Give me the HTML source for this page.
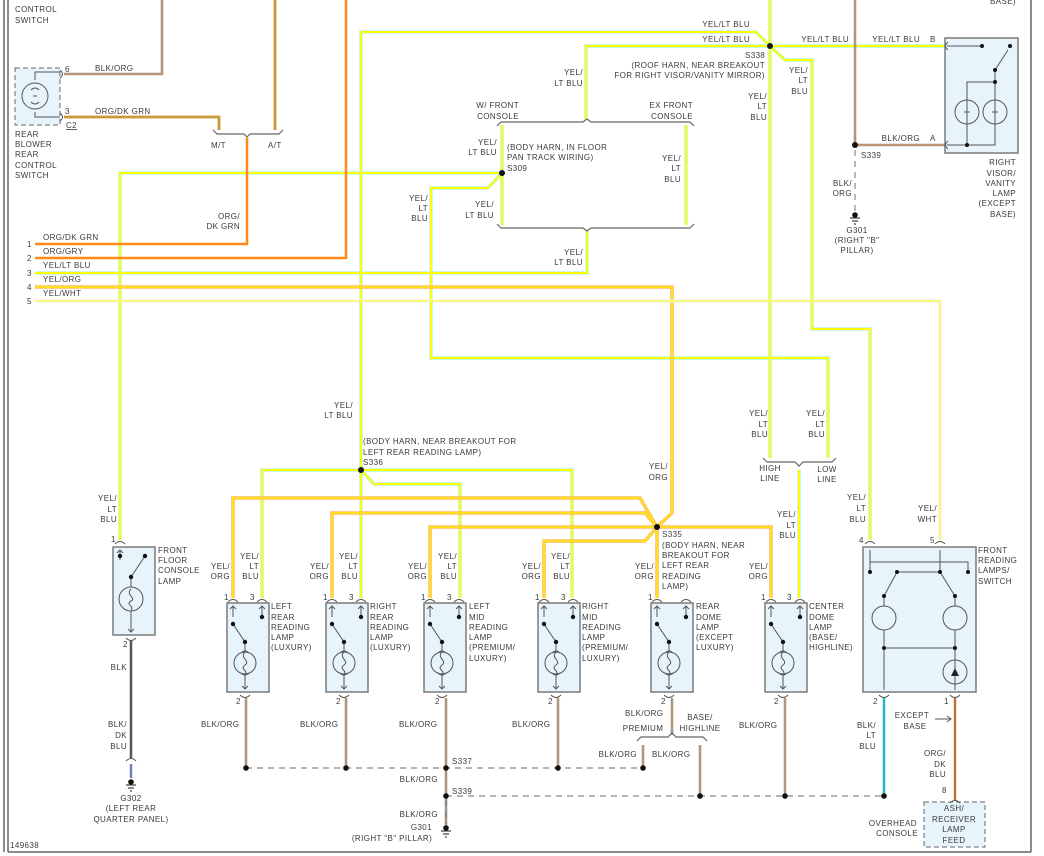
<!DOCTYPE html>
<html><head><meta charset="utf-8"><style>
html,body{margin:0;padding:0;background:#fff}
svg{display:block}
text{font-family:"Liberation Sans",sans-serif;font-size:8px;fill:#3a3a3a;letter-spacing:0.4px}
.e{text-anchor:end}.m{text-anchor:middle}
.box{fill:#e8f4fb;stroke:#7a7a7a;stroke-width:1.5}
.sym{fill:none;stroke:#555;stroke-width:1}
.cap{fill:none;stroke:#555;stroke-width:1}
</style></head><body>
<svg width="1044" height="856" viewBox="0 0 1044 856" xmlns="http://www.w3.org/2000/svg">
<defs>
<path id="ylb1" d="M361,598 V32 H756 L770,46"/>
<path id="ylb2" d="M586,120 V46 H770 H945"/>
<path id="ylb4" d="M770,46 L785,60 H812 V329 H870 V540"/>
<path id="ylb5" d="M770,0 V458"/>
<path id="ylb6" d="M828,458 V358 H431 V188 H488 L502,173"/>
<path id="ylb7" d="M502,173 H120 V540"/>
<path id="ylb8" d="M502,125 V225 M686,125 V225"/>
<path id="ylb9" d="M587,230 V273 H35"/>
<path id="ylb10" d="M799,470 V598"/>
<path id="ylb11" d="M361,470 H262 V598 M361,470 H572 V598 M361,470 L374,484 H460 V598"/>
<path id="yo" d="M35,287 H672 V513 L657,527 M233,598 V498 H640 L657,527 M332,598 V513 H645 L657,527 M430,598 V527 H657 M544,598 V541 H645 L657,527 M657,527 V598 M657,527 H771 V598"/>
<symbol id="lamp" overflow="visible">
<rect class="box" x="0" y="0" width="42" height="89"/>
<path class="cap" d="M1,-1 Q6,-6 11,-1 M30,-1 Q35,-6 40,-1 M13,92 Q18,97 23,92"/>
<path class="sym" d="M6,14 V3 M3,6 L6,3 L9,6 M35,14 V3 M32,6 L35,3 L38,6 M6,21 L18,39 V48 M18,72 V86 M15,83 L18,86 L21,83"/>
<circle cx="6" cy="21" r="2.2" fill="#111"/><circle cx="35" cy="14" r="2.2" fill="#111"/><circle cx="18" cy="39" r="2.2" fill="#111"/>
<circle class="sym" cx="18" cy="60" r="11"/>
<path class="sym" d="M14,50 Q18,46 22,50 M14,70 Q18,74 22,70 M18,49 C12,55 24,58 18,62 C12,66 22,68 18,71"/>
</symbol>
</defs>

<path d="M4,0 V852 M8,0 V852 M8,852 H1031 M1031,0 V852" stroke="#666" stroke-width="1.5" fill="none"/>

<g fill="none" stroke="#b8f4e8" stroke-width="3.5">
<use href="#ylb1"/><use href="#ylb2"/><use href="#ylb4"/><use href="#ylb5"/><use href="#ylb6"/><use href="#ylb7"/><use href="#ylb8"/><use href="#ylb9"/><use href="#ylb10"/><use href="#ylb11"/>
</g>
<g fill="none" stroke="#ffff00" stroke-width="2">
<use href="#ylb1"/><use href="#ylb2"/><use href="#ylb4"/><use href="#ylb5"/><use href="#ylb6"/><use href="#ylb7"/><use href="#ylb8"/><use href="#ylb9"/><use href="#ylb10"/><use href="#ylb11"/>
</g>
<g fill="none" stroke="#ffb860" stroke-width="3.5"><use href="#yo"/></g>
<g fill="none" stroke="#ffe020" stroke-width="2"><use href="#yo"/></g>
<path d="M35,301 H940 V540" fill="none" stroke="#e8e8d8" stroke-width="3"/>
<path d="M35,301 H940 V540" fill="none" stroke="#ffff60" stroke-width="1.5"/>

<path d="M35,244 H247 V138" fill="none" stroke="#ff8a1a" stroke-width="2.5"/>
<path d="M35,258 H346 V0" fill="none" stroke="#ff8a1a" stroke-width="2.5"/>
<path d="M64,117 H219 V130" fill="none" stroke="#f5a040" stroke-width="3"/>
<path d="M64,117 H219 V130" fill="none" stroke="#6a9a40" stroke-width="0.8"/>
<path d="M275,0 V130" fill="none" stroke="#f5a040" stroke-width="3"/>
<path d="M275,0 V130" fill="none" stroke="#6a9a40" stroke-width="0.8"/>
<g fill="none" stroke="#8a8a8a" stroke-width="2.5">
<path d="M64,74 H162 V0"/><path d="M855,0 V145 H945"/>
<path d="M246,698 V768 M346,698 V768 M446,698 V828 M558,698 V768 M672,698 V735 M643,745 V768 M700,745 V796 M785,698 V796"/>
</g>
<g fill="none" stroke="#f0a060" stroke-width="0.9">
<path d="M64,74 H162 V0"/><path d="M855,0 V145 H945"/>
<path d="M246,698 V768 M346,698 V768 M446,698 V828 M558,698 V768 M672,698 V735 M643,745 V768 M700,745 V796 M785,698 V796"/>
</g>
<path d="M884,698 V796" stroke="#22b8c8" stroke-width="2.5" fill="none"/>
<path d="M955,698 V800" stroke="#ff7a1a" stroke-width="2.5" fill="none"/>
<path d="M955,698 V800" stroke="#3050a0" stroke-width="0.6" fill="none"/>
<path d="M131,640 V758" stroke="#555" stroke-width="2.5" fill="none"/>
<path d="M131,764 V778" stroke="#7080b0" stroke-width="2.5" fill="none"/>
<g fill="none" stroke="#888" stroke-width="1.2" stroke-dasharray="6,5">
<path d="M246,768 H643"/><path d="M446,796 H884"/><path d="M855,150 V212"/><path d="M446,800 V824"/>
</g>

<g fill="none" stroke="#666" stroke-width="1.2">
<path d="M213,130 L217,134 H244 L247,137 L250,134 H279 L283,130"/>
<path d="M497,126 L501,122 H583 L587,119 L591,122 H690 L694,126"/>
<path d="M497,224 L501,228 H583 L587,231 L591,228 H690 L694,224"/>
<path d="M763,458 L767,462 H795 L799,466 L803,462 H832 L836,458"/>
<path d="M637,741 L641,737 H668 L672,733 L676,737 H703 L707,741"/>
</g>

<g fill="#111">
<circle cx="770" cy="46" r="3"/><circle cx="502" cy="173" r="3"/><circle cx="361" cy="470" r="3"/><circle cx="657" cy="527" r="3"/><circle cx="855" cy="145" r="3"/>
<circle cx="246" cy="768" r="2.8"/><circle cx="346" cy="768" r="2.8"/><circle cx="446" cy="768" r="2.8"/><circle cx="558" cy="768" r="2.8"/><circle cx="643" cy="768" r="2.8"/>
<circle cx="446" cy="796" r="2.8"/><circle cx="700" cy="796" r="2.8"/><circle cx="785" cy="796" r="2.8"/><circle cx="884" cy="796" r="2.8"/>
</g>
<g fill="none" stroke="#444" stroke-width="1.2">
<path d="M850,218 H860 M852,221 H858 M854,224 H856"/>
<path d="M126,785 H136 M128,788 H134 M130,791 H132"/>
<path d="M441,831 H451 M443,834 H449 M445,837 H447"/>
</g>
<circle cx="855" cy="215" r="2.8" fill="#111"/><circle cx="131" cy="782" r="2.8" fill="#111"/><circle cx="446" cy="828" r="2.8" fill="#111"/>

<rect x="15" y="68" width="45" height="57" fill="#e8f4fb" stroke="#666" stroke-dasharray="5,3"/>
<circle class="sym" cx="35" cy="96" r="13"/>
<path class="sym" d="M35,80 V72 H60 M35,112 V117 H60 M31,90 Q35,86 39,90 M31,102 Q35,106 39,102 M33,96 H37"/>
<path class="cap" d="M60,70 Q65,74 60,78 M60,113 Q65,117 60,121"/>

<rect class="box" x="945" y="38" width="73" height="115"/>
<path class="cap" d="M948,42 Q943,46 948,50 M948,141 Q943,145 948,149"/>
<path class="sym" d="M947,46 H982 M947,145 H995 V81 M995,70 L1008,50 M967,145 V82 H995 M995,70 V81"/>
<circle cx="982" cy="46" r="2" fill="#111"/><circle cx="1010" cy="46" r="2" fill="#111"/><circle cx="995" cy="70" r="2" fill="#111"/><circle cx="995" cy="82" r="2" fill="#111"/><circle cx="967" cy="145" r="2" fill="#111"/>
<circle class="sym" cx="967" cy="112" r="12"/><circle class="sym" cx="995" cy="112" r="12"/>
<path class="sym" d="M964,112 h6 M992,112 h6"/>

<rect class="box" x="113" y="547" width="42" height="88"/>
<path class="cap" d="M115,544 Q120,539 125,544 M126,638 Q131,643 136,638"/>
<path class="sym" d="M120,560 V550 M117,553 L120,550 L123,553 M131,577 L145,556 M131,577 V587 M131,611 V632 M128,629 L131,632 L134,629"/>
<circle cx="120" cy="556" r="2.2" fill="#111"/><circle cx="145" cy="556" r="2.2" fill="#111"/><circle cx="131" cy="577" r="2.2" fill="#111"/>
<circle class="sym" cx="131" cy="599" r="12"/>
<path class="sym" d="M131,589 C125,595 137,598 131,601 C125,604 135,607 131,610"/>
<path class="cap" d="M126,761 Q131,756 136,761"/>

<use href="#lamp" x="227" y="603"/>
<use href="#lamp" x="326" y="603"/>
<use href="#lamp" x="424" y="603"/>
<use href="#lamp" x="538" y="603"/>
<use href="#lamp" x="651" y="603"/>
<use href="#lamp" x="765" y="603"/>

<rect class="box" x="863" y="547" width="113" height="145"/>
<path class="cap" d="M865,544 Q870,539 875,544 M935,544 Q940,539 945,544 M879,695 Q884,700 889,695 M950,695 Q955,700 960,695"/>
<path class="sym" d="M870,572 V550 M940,572 V550 M870,562 H968 V572 M884,596 L897,572 H940 L955,596 M884,596 V606 M955,596 V606 M884,630 V690 M955,630 V690 M884,648 H955"/>
<circle cx="870" cy="572" r="2" fill="#111"/><circle cx="968" cy="572" r="2" fill="#111"/><circle cx="897" cy="572" r="2" fill="#111"/><circle cx="940" cy="572" r="2" fill="#111"/>
<circle cx="884" cy="596" r="2" fill="#111"/><circle cx="955" cy="596" r="2" fill="#111"/><circle cx="884" cy="648" r="2" fill="#111"/><circle cx="955" cy="648" r="2" fill="#111"/>
<circle class="sym" cx="884" cy="618" r="12"/><circle class="sym" cx="955" cy="618" r="12"/><circle class="sym" cx="955" cy="672" r="12"/>
<path d="M951,676 L955,668 L959,676 Z" fill="#222"/>
<path class="sym" d="M935,719 H951 M947,716 L951,719 L947,722"/>

<rect x="924" y="802" width="61" height="45" fill="#e8f4fb" stroke="#666" stroke-dasharray="5,3"/>
<path class="cap" d="M950,803 Q955,798 960,803"/>

<text x="15" y="12">CONTROL</text><text x="15" y="23">SWITCH</text>
<text x="95" y="71">BLK/ORG</text><text x="65" y="72">6</text>
<text x="65" y="114">3</text><text x="95" y="114">ORG/DK GRN</text>
<text x="66" y="128" text-decoration="underline">C2</text>
<text x="15" y="137">REAR</text><text x="15" y="147">BLOWER</text><text x="15" y="157">REAR</text><text x="15" y="168">CONTROL</text><text x="15" y="178">SWITCH</text>
<text x="211" y="148">M/T</text><text x="268" y="148">A/T</text>
<text class="e" x="240" y="219">ORG/</text><text class="e" x="240" y="229">DK GRN</text>
<text x="27" y="247">1</text><text x="43" y="240">ORG/DK GRN</text>
<text x="27" y="261">2</text><text x="43" y="254">ORG/GRY</text>
<text x="27" y="276">3</text><text x="43" y="268">YEL/LT BLU</text>
<text x="27" y="290">4</text><text x="43" y="282">YEL/ORG</text>
<text x="27" y="304">5</text><text x="43" y="296">YEL/WHT</text>
<text class="e" x="750" y="27">YEL/LT BLU</text><text class="e" x="750" y="42">YEL/LT BLU</text>
<text x="745" y="58">S338</text>
<text class="e" x="765" y="68">(ROOF HARN, NEAR BREAKOUT</text><text class="e" x="765" y="78">FOR RIGHT VISOR/VANITY MIRROR)</text>
<text class="e" x="583" y="75">YEL/</text><text class="e" x="583" y="86">LT BLU</text>
<text class="e" x="519" y="108">W/ FRONT</text><text class="e" x="519" y="119">CONSOLE</text>
<text class="e" x="693" y="108">EX FRONT</text><text class="e" x="693" y="119">CONSOLE</text>
<text class="e" x="497" y="145">YEL/</text><text class="e" x="497" y="155">LT BLU</text>
<text x="507" y="150">(BODY HARN, IN FLOOR</text><text x="507" y="160">PAN TRACK WIRING)</text><text x="507" y="171">S309</text>
<text class="e" x="428" y="201">YEL/</text><text class="e" x="428" y="211">LT</text><text class="e" x="428" y="221">BLU</text>
<text class="e" x="494" y="207">YEL/</text><text class="e" x="494" y="218">LT BLU</text>
<text class="e" x="681" y="161">YEL/</text><text class="e" x="681" y="171">LT</text><text class="e" x="681" y="182">BLU</text>
<text class="e" x="583" y="255">YEL/</text><text class="e" x="583" y="265">LT BLU</text>
<text class="e" x="767" y="99">YEL/</text><text class="e" x="767" y="109">LT</text><text class="e" x="767" y="120">BLU</text>
<text class="e" x="808" y="73">YEL/</text><text class="e" x="808" y="83">LT</text><text class="e" x="808" y="94">BLU</text>
<text class="e" x="849" y="42">YEL/LT BLU</text><text class="e" x="920" y="42">YEL/LT BLU</text><text x="930" y="42">B</text>
<text class="e" x="920" y="141">BLK/ORG</text><text x="930" y="141">A</text>
<text x="861" y="158">S339</text>
<text class="e" x="852" y="186">BLK/</text><text class="e" x="852" y="196">ORG</text>
<text class="m" x="857" y="233">G301</text><text class="m" x="857" y="243">(RIGHT "B"</text><text class="m" x="857" y="253">PILLAR)</text>
<text class="e" x="1016" y="4">BASE)</text>
<text class="e" x="1016" y="165">RIGHT</text><text class="e" x="1016" y="176">VISOR/</text><text class="e" x="1016" y="186">VANITY</text><text class="e" x="1016" y="196">LAMP</text><text class="e" x="1016" y="206">(EXCEPT</text><text class="e" x="1016" y="217">BASE)</text>
<text class="e" x="353" y="408">YEL/</text><text class="e" x="353" y="418">LT BLU</text>
<text x="363" y="444">(BODY HARN, NEAR BREAKOUT FOR</text><text x="363" y="455">LEFT REAR READING LAMP)</text><text x="363" y="465">S336</text>
<text class="e" x="668" y="469">YEL/</text><text class="e" x="668" y="480">ORG</text>
<text class="e" x="768" y="416">YEL/</text><text class="e" x="768" y="427">LT</text><text class="e" x="768" y="437">BLU</text>
<text class="e" x="825" y="416">YEL/</text><text class="e" x="825" y="427">LT</text><text class="e" x="825" y="437">BLU</text>
<text class="m" x="770" y="471">HIGH</text><text class="m" x="770" y="481">LINE</text>
<text class="m" x="827" y="472">LOW</text><text class="m" x="827" y="482">LINE</text>
<text class="e" x="796" y="517">YEL/</text><text class="e" x="796" y="528">LT</text><text class="e" x="796" y="538">BLU</text>
<text class="e" x="117" y="501">YEL/</text><text class="e" x="117" y="512">LT</text><text class="e" x="117" y="522">BLU</text>
<text x="111" y="542">1</text>
<text x="158" y="553">FRONT</text><text x="158" y="563">FLOOR</text><text x="158" y="573">CONSOLE</text><text x="158" y="584">LAMP</text>
<text x="123" y="647">2</text><text class="e" x="127" y="670">BLK</text>
<text class="e" x="127" y="727">BLK/</text><text class="e" x="127" y="738">DK</text><text class="e" x="127" y="749">BLU</text>
<text class="m" x="131" y="801">G302</text><text class="m" x="131" y="811">(LEFT REAR</text><text class="m" x="131" y="822">QUARTER PANEL)</text>
<text class="e" x="230" y="569">YEL/</text><text class="e" x="230" y="579">ORG</text><text class="e" x="259" y="559">YEL/</text><text class="e" x="259" y="569">LT</text><text class="e" x="259" y="579">BLU</text>
<text x="224" y="600">1</text><text x="250" y="600">3</text>
<text x="271" y="609">LEFT</text><text x="271" y="620">REAR</text><text x="271" y="630">READING</text><text x="271" y="640">LAMP</text><text x="271" y="650">(LUXURY)</text>
<text class="e" x="329" y="569">YEL/</text><text class="e" x="329" y="579">ORG</text><text class="e" x="358" y="559">YEL/</text><text class="e" x="358" y="569">LT</text><text class="e" x="358" y="579">BLU</text>
<text x="323" y="600">1</text><text x="349" y="600">3</text>
<text x="370" y="609">RIGHT</text><text x="370" y="620">REAR</text><text x="370" y="630">READING</text><text x="370" y="640">LAMP</text><text x="370" y="650">(LUXURY)</text>
<text class="e" x="427" y="569">YEL/</text><text class="e" x="427" y="579">ORG</text><text class="e" x="457" y="559">YEL/</text><text class="e" x="457" y="569">LT</text><text class="e" x="457" y="579">BLU</text>
<text x="421" y="600">1</text><text x="447" y="600">3</text>
<text x="469" y="609">LEFT</text><text x="469" y="620">MID</text><text x="469" y="630">READING</text><text x="469" y="640">LAMP</text><text x="469" y="650">(PREMIUM/</text><text x="469" y="661">LUXURY)</text>
<text class="e" x="541" y="569">YEL/</text><text class="e" x="541" y="579">ORG</text><text class="e" x="570" y="559">YEL/</text><text class="e" x="570" y="569">LT</text><text class="e" x="570" y="579">BLU</text>
<text x="535" y="600">1</text><text x="561" y="600">3</text>
<text x="582" y="609">RIGHT</text><text x="582" y="620">MID</text><text x="582" y="630">READING</text><text x="582" y="640">LAMP</text><text x="582" y="650">(PREMIUM/</text><text x="582" y="661">LUXURY)</text>
<text x="662" y="537">S335</text><text x="662" y="548">(BODY HARN, NEAR</text><text x="662" y="558">BREAKOUT FOR</text><text x="662" y="568">LEFT REAR</text><text x="662" y="579">READING</text><text x="662" y="589">LAMP)</text>
<text class="e" x="654" y="569">YEL/</text><text class="e" x="654" y="579">ORG</text><text x="648" y="600">1</text>
<text x="696" y="609">REAR</text><text x="696" y="620">DOME</text><text x="696" y="630">LAMP</text><text x="696" y="640">(EXCEPT</text><text x="696" y="650">LUXURY)</text>
<text class="e" x="768" y="569">YEL/</text><text class="e" x="768" y="579">ORG</text><text x="761" y="600">1</text><text x="787" y="600">3</text>
<text x="809" y="609">CENTER</text><text x="809" y="620">DOME</text><text x="809" y="630">LAMP</text><text x="809" y="640">(BASE/</text><text x="809" y="650">HIGHLINE)</text>
<text class="e" x="866" y="500">YEL/</text><text class="e" x="866" y="511">LT</text><text class="e" x="866" y="522">BLU</text>
<text class="e" x="937" y="511">YEL/</text><text class="e" x="937" y="522">WHT</text>
<text x="859" y="543">4</text><text x="930" y="543">5</text>
<text x="978" y="553">FRONT</text><text x="978" y="563">READING</text><text x="978" y="573">LAMPS/</text><text x="978" y="584">SWITCH</text>
<text x="236" y="704">2</text><text x="336" y="704">2</text><text x="435" y="704">2</text><text x="548" y="704">2</text><text x="661" y="704">2</text><text x="774" y="704">2</text><text x="873" y="704">2</text><text x="944" y="704">1</text>
<text x="201" y="727">BLK/ORG</text><text x="300" y="727">BLK/ORG</text><text x="399" y="727">BLK/ORG</text><text x="512" y="727">BLK/ORG</text>
<text x="625" y="716">BLK/ORG</text><text class="m" x="700" y="720">BASE/</text><text class="m" x="700" y="731">HIGHLINE</text><text class="m" x="643" y="731">PREMIUM</text>
<text class="e" x="637" y="757">BLK/ORG</text><text x="652" y="757">BLK/ORG</text>
<text x="739" y="728">BLK/ORG</text>
<text x="452" y="764">S337</text><text class="e" x="438" y="782">BLK/ORG</text><text x="452" y="794">S339</text>
<text class="e" x="438" y="817">BLK/ORG</text><text class="e" x="432" y="830">G301</text><text class="m" x="392" y="841">(RIGHT "B" PILLAR)</text>
<text class="m" x="912" y="718">EXCEPT</text><text class="m" x="915" y="729">BASE</text>
<text class="e" x="876" y="728">BLK/</text><text class="e" x="876" y="738">LT</text><text class="e" x="876" y="749">BLU</text>
<text class="e" x="946" y="756">ORG/</text><text class="e" x="946" y="767">DK</text><text class="e" x="946" y="777">BLU</text>
<text x="942" y="793">8</text>
<text class="m" x="954" y="811">ASH/</text><text class="m" x="954" y="822">RECEIVER</text><text class="m" x="954" y="832">LAMP</text><text class="m" x="954" y="843">FEED</text>
<text class="e" x="917" y="826">OVERHEAD</text><text class="e" x="918" y="836">CONSOLE</text>
<text x="10" y="848">149638</text>
</svg>
</body></html>
